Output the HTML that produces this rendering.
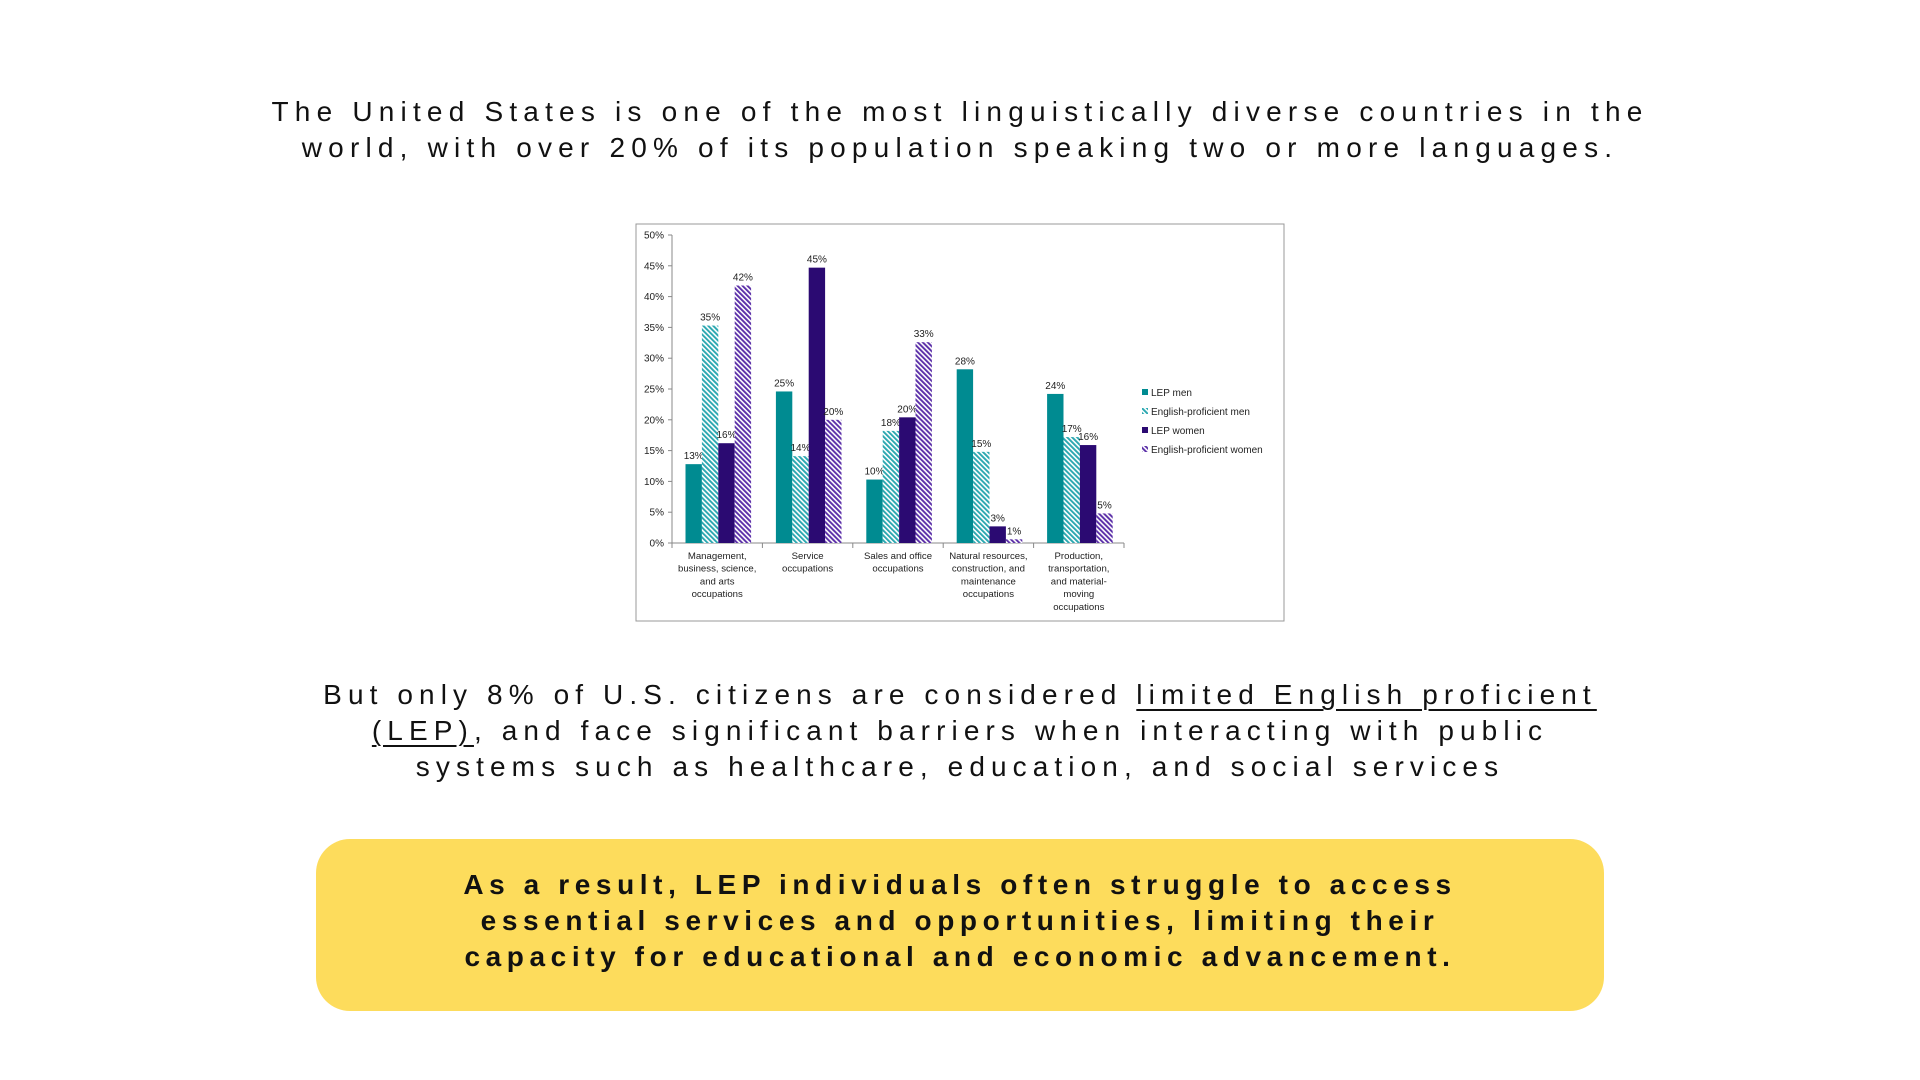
<!DOCTYPE html>
<html><head><meta charset="utf-8">
<style>
html,body{margin:0;padding:0;background:#fff;}
body{width:1920px;height:1080px;position:relative;overflow:hidden;font-family:"Liberation Sans",sans-serif;color:#111;}
.t{position:absolute;left:0;width:1920px;text-align:center;font-size:28px;letter-spacing:6.2px;line-height:36px;}
#intro{top:94px;}
#middle{top:677px;letter-spacing:6.1px;}
#middle u{text-decoration-thickness:2px;text-underline-offset:5px;}
#callout{position:absolute;left:316px;top:839px;width:1288px;height:172px;background:#fddc5c;border-radius:34px;}
#callout div{position:absolute;left:0;top:28px;width:100%;text-align:center;font-weight:bold;font-size:28px;letter-spacing:5.6px;line-height:36px;color:#111;}
#chart{position:absolute;left:0;top:0;}
</style></head><body>
<div id="intro" class="t">The United States is one of the most linguistically diverse countries in the<br>world, with over 20% of its population speaking two or more languages.</div>

<svg id="chart" width="1920" height="1080">
<defs>
<pattern id="hatchT" width="3.5" height="3.5" patternUnits="userSpaceOnUse" patternTransform="rotate(-45)"><rect width="3.5" height="3.5" fill="#fff"/><rect width="1.9" height="3.5" fill="#2aa7b0"/></pattern>
<pattern id="hatchP" width="3.5" height="3.5" patternUnits="userSpaceOnUse" patternTransform="rotate(-45)"><rect width="3.5" height="3.5" fill="#fff"/><rect width="1.9" height="3.5" fill="#5b2fa8"/></pattern>
</defs>
<rect x="636" y="224" width="648" height="397" fill="#fff" stroke="#999" stroke-width="1"/>
<g id="g"></g>
</svg>

<div id="middle" class="t">But only 8% of U.S. citizens are considered <u>limited English proficient<br>(LEP)</u>, and face significant barriers when interacting with public<br>systems such as healthcare, education, and social services</div>

<div id="callout"><div>As a result, LEP individuals often struggle to access<br>essential services and opportunities, limiting their<br>capacity for educational and economic advancement.</div></div>

<script>
const categories=[["Management,","business, science,","and arts","occupations"],["Service","occupations"],["Sales and office","occupations"],["Natural resources,","construction, and","maintenance","occupations"],["Production,","transportation,","and material-","moving","occupations"]];
const seriesNames=["LEP men","English-proficient men","LEP women","English-proficient women"];
const lepMen=[12.8,24.6,10.3,28.2,24.2];
const epMen=[35.3,14.1,18.2,14.8,17.2];
const lepWomen=[16.2,44.7,20.4,2.7,15.9];
const epWomen=[41.8,20.0,32.6,0.6,4.8];
const lepMenLabels=["13%","25%","10%","28%","24%"];
const epMenLabels=["35%","14%","18%","15%","17%"];
const lepWomenLabels=["16%","45%","20%","3%","16%"];
const epWomenLabels=["42%","20%","33%","1%","5%"];
const yTicks=[0,5,10,15,20,25,30,35,40,45,50];

const NS="http://www.w3.org/2000/svg";
const g=document.getElementById('g');
const X0=672,X1=1124,Y0=543,Y50=235;
const catW=(X1-X0)/categories.length;
const y=v=>Y0-(v/50)*(Y0-Y50);
const barW=16.4;
const bx=(c,s)=>X0+c*catW+13.5+s*barW;
function mk(tag,attrs){const e=document.createElementNS(NS,tag);for(const k in attrs)e.setAttribute(k,attrs[k]);g.appendChild(e);return e;}
let ax=mk('line',{x1:X0,y1:Y50,x2:X0,y2:Y0,stroke:'#888'});


let bx2=mk('line',{x1:X0,y1:Y0,x2:X1,y2:Y0,stroke:'#888'});


yTicks.forEach(t=>{
  mk('line',{x1:X0-4,y1:y(t),x2:X0,y2:y(t),stroke:'#888'});
  const tx=mk('text',{x:X0-8,y:y(t)+3.5,'font-size':10,'text-anchor':'end',fill:'#222','font-family':'Liberation Sans, sans-serif'});
  tx.textContent=t+'%';
  
  
});
for(let c=0;c<=categories.length;c++){mk('line',{x1:X0+c*catW,y1:Y0,x2:X0+c*catW,y2:Y0+5,stroke:'#888'});}
categories.forEach((lines,c)=>{
  lines.forEach((ln,i)=>{
    const tx=mk('text',{x:X0+(c+0.5)*catW,y:559+i*12.7,'font-size':9.6,'text-anchor':'middle',fill:'#222','font-family':'Liberation Sans, sans-serif'});
    tx.textContent=ln;
    
    
  });
});
const series=[lepMen,epMen,lepWomen,epWomen];
const labels=[lepMenLabels,epMenLabels,lepWomenLabels,epWomenLabels];
const fills=['#008b91','url(#hatchT)','#2b0a72','url(#hatchP)'];
series.forEach((vals,s)=>{
  vals.forEach((v,c)=>{
    const r=mk('rect',{x:bx(c,s),y:y(v),width:barW,height:Y0-y(v),fill:fills[s]});
    
    
    const tx=mk('text',{x:bx(c,s)+barW/2,y:y(v)-5,'font-size':10,'text-anchor':'middle',fill:'#222','font-family':'Liberation Sans, sans-serif'});
    tx.textContent=labels[s][c];
    
    
  });
});
seriesNames.forEach((n,i)=>{
  const ly=396+i*19;
  const r=mk('rect',{x:1142,y:ly-7,width:6,height:6,fill:fills[i]});
  
  
  const tx=mk('text',{x:1151,y:ly,'font-size':10,fill:'#222','font-family':'Liberation Sans, sans-serif'});
  tx.textContent=n;
  
  
});
</script>
</body></html>
